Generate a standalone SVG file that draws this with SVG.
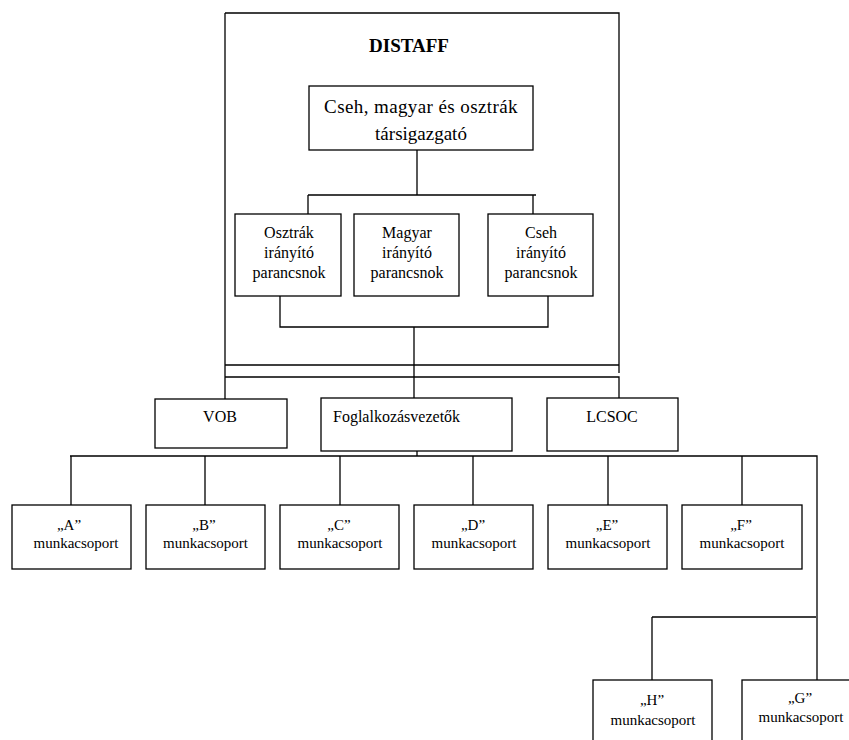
<svg xmlns="http://www.w3.org/2000/svg" width="849" height="740" viewBox="0 0 849 740">
<style>
.b{fill:#fff;stroke:#000;stroke-width:1.3}
.c{fill:none;stroke:#000;stroke-width:1.3}
text{font-family:"Liberation Serif","Times New Roman",serif;fill:#000;text-anchor:middle}
.t{font-size:16px}
.m{font-size:15px}
.big{font-size:19px}
.sp{letter-spacing:0.4px}
</style>
<rect width="849" height="740" fill="#fff"/>
<g id="connectors">
<path class="c" d="M225,13 H619 V373 M225,13 V399 M225,365 H619 M225,377 H619 V399"/>
<path class="c" d="M417,150 V195 M308,195 H536 M308,195 V214 M533,195 V214"/>
<path class="c" d="M280,296 V327 H548 V296 M414,327 V407"/>
<path class="c" d="M417,443 V456 M70,456 H817 V680 M71,456 V505 M205,456 V505 M340,456 V505 M473,456 V505 M608,456 V505 M742,456 V505"/>
<path class="c" d="M652,617 H816 M652,617 V680"/>
</g>
<g id="distaff">
<text x="409" y="52" class="big" font-weight="bold">DISTAFF</text>
</g>
<g id="tarsigazgato">
<rect class="b" x="309" y="86" width="224" height="64"/>
<text x="421" y="113" class="big sp">Cseh, magyar és osztrák</text>
<text x="421" y="140" class="big">társigazgató</text>
</g>
<g id="osztrak">
<rect class="b" x="235" y="214" width="106" height="82"/>
<text x="289" y="238" class="t">Osztrák</text>
<text x="289" y="258" class="t">irányító</text>
<text x="289" y="278" class="t">parancsnok</text>
</g>
<g id="magyar">
<rect class="b" x="354" y="214" width="105" height="82"/>
<text x="407" y="238" class="t">Magyar</text>
<text x="407" y="258" class="t">irányító</text>
<text x="407" y="278" class="t">parancsnok</text>
</g>
<g id="cseh">
<rect class="b" x="488" y="214" width="105" height="82"/>
<text x="541" y="238" class="t">Cseh</text>
<text x="541" y="258" class="t">irányító</text>
<text x="541" y="278" class="t">parancsnok</text>
</g>
<g id="vob">
<rect class="b" x="155" y="399" width="132" height="49"/>
<text x="220" y="422" class="t">VOB</text>
</g>
<g id="foglalkozas">
<rect class="b" x="321" y="398" width="191" height="53"/>
<text x="333" y="422" class="t" style="text-anchor:start">Foglalkozásvezetők</text>
</g>
<g id="lcsoc">
<rect class="b" x="547" y="398" width="131" height="53"/>
<text x="612" y="422" class="t">LCSOC</text>
</g>
<g id="a">
<rect class="b" x="12" y="505" width="119" height="64"/>
<text x="69" y="530" class="m">„A”</text>
<text x="76" y="548" class="m">munkacsoport</text>
</g>
<g id="b">
<rect class="b" x="146" y="505" width="119" height="64"/>
<text x="204" y="530" class="m">„B”</text>
<text x="205.5" y="548" class="m">munkacsoport</text>
</g>
<g id="c">
<rect class="b" x="280" y="505" width="119" height="64"/>
<text x="339" y="530" class="m">„C”</text>
<text x="340" y="548" class="m">munkacsoport</text>
</g>
<g id="d">
<rect class="b" x="414" y="505" width="119" height="64"/>
<text x="473" y="530" class="m">„D”</text>
<text x="474" y="548" class="m">munkacsoport</text>
</g>
<g id="e">
<rect class="b" x="548" y="505" width="119" height="64"/>
<text x="607" y="530" class="m">„E”</text>
<text x="608" y="548" class="m">munkacsoport</text>
</g>
<g id="f">
<rect class="b" x="682" y="505" width="120" height="64"/>
<text x="741" y="530" class="m">„F”</text>
<text x="742" y="548" class="m">munkacsoport</text>
</g>
<g id="h">
<rect class="b" x="593" y="680" width="119" height="70"/>
<text x="652" y="705" class="m">„H”</text>
<text x="653" y="725" class="m">munkacsoport</text>
</g>
<g id="g">
<rect class="b" x="742" y="680" width="119" height="70"/>
<text x="800" y="703" class="m">„G”</text>
<text x="801" y="722" class="m">munkacsoport</text>
</g>
</svg>
